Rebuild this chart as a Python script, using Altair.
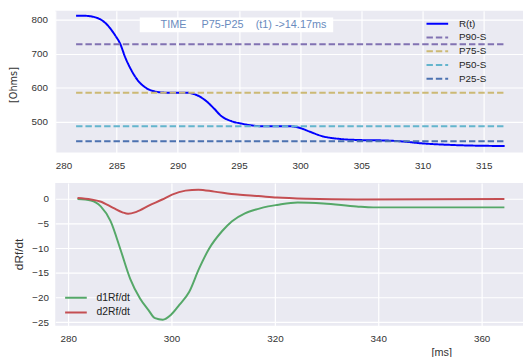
import altair as alt
import pandas as pd

# ---------------- top panel data ----------------
r_t = [281.7, 282.4, 283.4, 284.2, 284.9, 285.3, 285.7, 286.2, 286.7, 287.5, 288.2,
       289.0, 290.6, 291.4, 292.3, 293.0, 293.5, 294.4, 295.2, 296.2, 297.0, 299.2,
       300.0, 300.8, 301.8, 303.2, 304.5, 307.2, 308.5, 309.9, 312.5, 316.7]
r_val = [811, 811, 805, 786, 753, 729, 690, 652, 623, 597, 588,
         585, 585, 580, 561, 537, 518, 501, 494, 488, 486, 486,
         481, 470, 457, 449, 446, 444, 441, 436, 431, 428]
p_names = ["P90-S", "P75-S", "P50-S", "P25-S"]
p_vals = [727, 585, 486, 442]
p_span = [281.7, 316.7]
top_series = ["R(t)"] + p_names
top_colors = ["#0000FF", "#8172B2", "#CCB974", "#64B5CD", "#4C72B0"]
top_dashes = [[1, 0], [6.5, 3], [6.5, 3], [6.5, 3], [6.5, 3]]
top_xticks = [280, 285, 290, 295, 300, 305, 310, 315]
top_yticks = [500, 600, 700, 800]
top_xdomain = [280.0, 318.2]
top_ydomain = [409, 826]

note_text = "TIME\u00a0\u00a0\u00a0\u00a0\u00a0P75-P25\u00a0\u00a0\u00a0\u00a0(t1)\u00a0->14.17ms"
note_pos = [288.6, 785]
note_box = [286.9, 302.7, 805.8, 762.5]

# ---------------- bottom panel data ----------------
d1_t = [281.8, 284.4, 286.3, 288.2, 290.1, 292.0, 293.9, 295.5, 296.8, 298.3, 299.9,
        301.5, 303.4, 305.3, 307.2, 309.8, 311.7, 314.2, 316.8, 318.7, 320.4, 324.4,
        329.4, 335.8, 339.0, 364.4]
d1_val = [0.0, -0.3, -1.5, -4.5, -10.2, -16.2, -20.2, -22.5, -24.2, -24.5, -23.5,
          -21.5, -18.9, -14.2, -10.2, -6.5, -4.5, -2.9, -2.0, -1.5, -1.2, -0.7,
          -0.9, -1.5, -1.7, -1.7]
d2_t = [281.8, 284.4, 286.2, 288.7, 290.5, 291.6, 293.2, 295.7, 298.2, 300.1, 302.7,
        305.2, 308.3, 312.8, 316.8, 320.4, 326.2, 335.8, 364.4]
d2_val = [0.2, -0.1, -0.5, -1.8, -2.7, -3.0, -2.6, -1.3, -0.1, 0.9, 1.7,
          1.9, 1.5, 0.9, 0.6, 0.3, 0.05, -0.1, 0.0]
bot_series = ["d1Rf/dt", "d2Rf/dt"]
bot_colors = ["#55A868", "#C44E52"]
bot_xticks = [280, 300, 320, 340, 360]
bot_yticks = [-25, -20, -15, -10, -5, 0]
bot_xdomain = [277.5, 368.0]
bot_ydomain = [-25.75, 3.25]

# ---------------- tables ----------------
rows = [{"t": a, "v": b, "s": "R(t)"} for a, b in zip(r_t, r_val)]
for n, v in zip(p_names, p_vals):
    for x in p_span:
        rows.append({"t": x, "v": v, "s": n})
top_df = pd.DataFrame(rows)

brows = [{"t": a, "v": b, "d": bot_series[0]} for a, b in zip(d1_t, d1_val)]
brows += [{"t": a, "v": b, "d": bot_series[1]} for a, b in zip(d2_t, d2_val)]
bot_df = pd.DataFrame(brows)

note_df = pd.DataFrame([{"x": note_pos[0], "y": note_pos[1], "txt": note_text,
                         "x1": note_box[0], "x2": note_box[1],
                         "y1": note_box[2], "y2": note_box[3]}])

LBL = "Liberation Sans, Arial, sans-serif"
LBLC = "#333333"

top_legend = alt.Legend(title=None, orient="none", legendX=376, legendY=6.5,
                        symbolType="stroke", symbolSize=484, symbolStrokeWidth=2,
                        labelFontSize=10, labelFont=LBL, labelColor="#222222",
                        labelOffset=10, rowPadding=0, clipHeight=13.4)

tx = alt.X("t:Q", scale=alt.Scale(domain=top_xdomain, nice=False, zero=False),
           axis=alt.Axis(values=top_xticks, title=None, labelPadding=8))
ty = alt.Y("v:Q", scale=alt.Scale(domain=top_ydomain, nice=False, zero=False),
           axis=alt.Axis(values=top_yticks, title="[Ohms]", labelPadding=8,
                         titleX=-42, titleY=75, titleBaseline="middle",
                         titleFont="Liberation Sans Narrow, DejaVu Sans Condensed, sans-serif",
                         titleFontSize=11, titleFontWeight="normal", titleColor=LBLC))

top_lines = alt.Chart(top_df).mark_line(strokeWidth=2, interpolate="monotone", clip=True).encode(
    x=tx, y=ty,
    color=alt.Color("s:N", scale=alt.Scale(domain=top_series, range=top_colors), legend=top_legend),
    strokeDash=alt.StrokeDash("s:N", scale=alt.Scale(domain=top_series, range=top_dashes), legend=top_legend),
)

box = alt.Chart(note_df).mark_rect(color="white").encode(
    x=alt.X("x1:Q", scale=alt.Scale(domain=top_xdomain, nice=False, zero=False)),
    x2="x2:Q",
    y=alt.Y("y1:Q", scale=alt.Scale(domain=top_ydomain, nice=False, zero=False)),
    y2="y2:Q",
)
note = alt.Chart(note_df).mark_text(align="left", baseline="middle", fontSize=11,
                                    font=LBL, color="#6A8BBE").encode(
    x=alt.X("x:Q", scale=alt.Scale(domain=top_xdomain, nice=False, zero=False)),
    y=alt.Y("y:Q", scale=alt.Scale(domain=top_ydomain, nice=False, zero=False)),
    text="txt:N",
)

top = alt.layer(box, top_lines, note).properties(width=475, height=144)

bot_legend = alt.Legend(title=None, orient="none", legendX=9, legendY=109,
                        symbolType="stroke", symbolSize=484, symbolStrokeWidth=2,
                        labelFontSize=10.5, labelFont=LBL, labelColor="#222222",
                        labelOffset=9, rowPadding=0, clipHeight=15)

bot = alt.Chart(bot_df).mark_line(strokeWidth=2, interpolate="monotone").encode(
    x=alt.X("t:Q", scale=alt.Scale(domain=bot_xdomain, nice=False, zero=False),
            axis=alt.Axis(values=bot_xticks, title="[ms]", labelPadding=8,
                          titleX=392, titleY=30, titleBaseline="alphabetic",
                          titleFont=LBL, titleFontSize=11, titleFontWeight="normal",
                          titleColor=LBLC)),
    y=alt.Y("v:Q", scale=alt.Scale(domain=bot_ydomain, nice=False, zero=False),
            axis=alt.Axis(values=bot_yticks, title="dRf/dt", labelPadding=7,
                          titleX=-37, titleY=72, titleBaseline="middle",
                          titleFont=LBL, titleFontSize=12, titleFontWeight="normal",
                          titleColor=LBLC)),
    color=alt.Color("d:N", scale=alt.Scale(domain=bot_series, range=bot_colors), legend=bot_legend),
).properties(width=475, height=145)

chart = alt.vconcat(top, bot, spacing=13).resolve_scale(
    x="independent", y="independent", color="independent", strokeDash="independent"
).resolve_legend(color="independent", strokeDash="independent").properties(padding=0).configure_view(
    fill="#EAEAF2", strokeWidth=0
).configure_axis(
    domain=False, ticks=False, grid=True, gridColor="white", gridWidth=1.2,
    labelFont=LBL, labelFontSize=10, labelColor=LBLC
)

chart.save("out.html", embed_options={"renderer": "svg", "actions": False})
